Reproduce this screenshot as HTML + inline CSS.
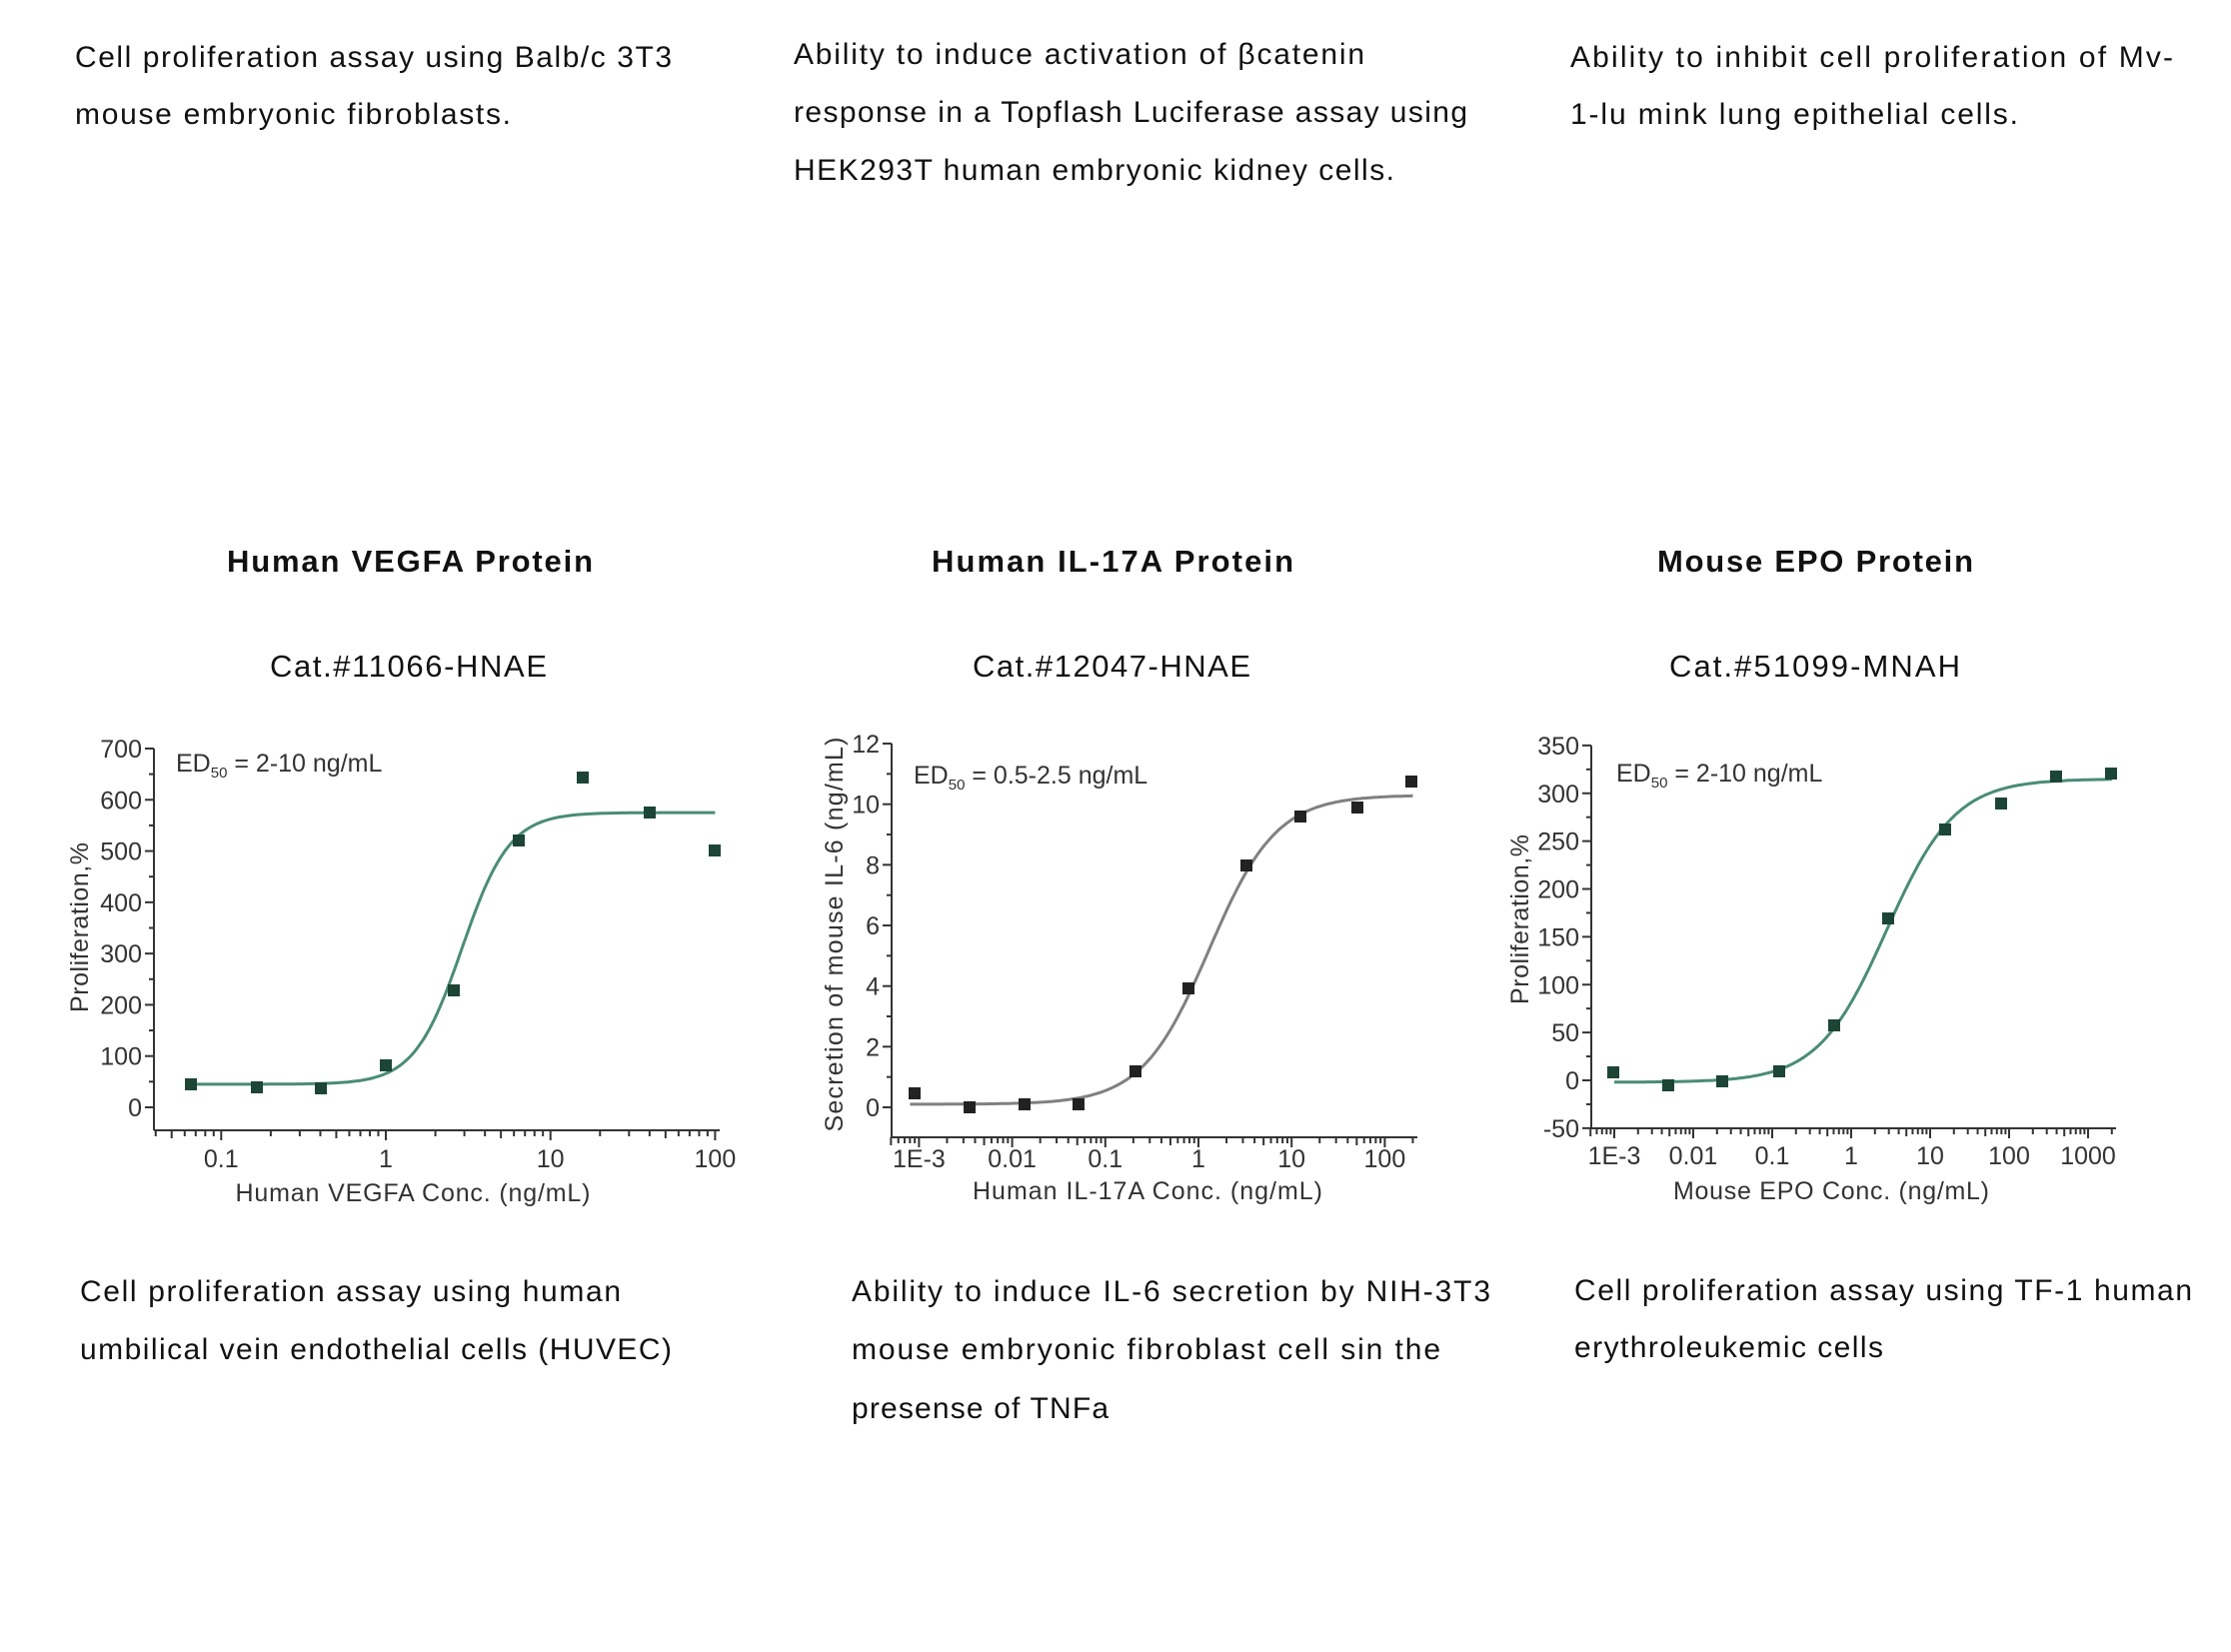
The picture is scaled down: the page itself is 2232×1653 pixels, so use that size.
<!DOCTYPE html>
<html><head><meta charset="utf-8">
<style>
html,body{margin:0;padding:0;background:#fff;}
svg{display:block;}
.p{font-family:"Liberation Sans",sans-serif;font-size:30px;fill:#111;}
.t{font-family:"Liberation Sans",sans-serif;font-size:31px;font-weight:bold;fill:#111;}
.c{font-family:"Liberation Sans",sans-serif;font-size:31px;fill:#111;}
.k{font-family:"Liberation Sans Narrow","Liberation Sans",sans-serif;font-size:25px;fill:#333;}
</style></head>
<body>
<svg id="s" width="2232" height="1653" viewBox="0 0 2232 1653" xmlns="http://www.w3.org/2000/svg">
<rect width="2232" height="1653" fill="#fff"/>
<g transform="translate(-2,-2)">
<text class="p" x="77" y="69" textLength="597">Cell proliferation assay using Balb/c 3T3</text>
<text class="p" x="77" y="126" textLength="436">mouse embryonic fibroblasts.</text>
<text class="p" x="796" y="66" textLength="571">Ability to induce activation of βcatenin</text>
<text class="p" x="796" y="124" textLength="674">response in a Topflash Luciferase assay using</text>
<text class="p" x="796" y="182" textLength="601">HEK293T human embryonic kidney cells.</text>
<text class="p" x="1573" y="69" textLength="603">Ability to inhibit cell proliferation of Mv-</text>
<text class="p" x="1573" y="126" textLength="448">1-lu mink lung epithelial cells.</text>

<text class="t" x="229" y="574" textLength="366">Human VEGFA Protein</text>
<text class="t" x="934" y="574" textLength="362">Human IL-17A Protein</text>
<text class="t" x="1660" y="574" textLength="316">Mouse EPO Protein</text>
<text class="c" x="272" y="679" textLength="277">Cat.#11066-HNAE</text>
<text class="c" x="975" y="679" textLength="278">Cat.#12047-HNAE</text>
<text class="c" x="1672" y="679" textLength="291">Cat.#51099-MNAH</text>

<g transform="translate(0,-3)">
<text class="p" x="82" y="1307" textLength="541">Cell proliferation assay using human</text>
<text class="p" x="82" y="1365" textLength="592">umbilical vein endothelial cells (HUVEC)</text>
<text class="p" x="854" y="1307" textLength="639">Ability to induce IL-6 secretion by NIH-3T3</text>
<text class="p" x="854" y="1365" textLength="589">mouse embryonic fibroblast cell sin the</text>
<text class="p" x="854" y="1424" textLength="257">presense of TNFa</text>
<text class="p" x="1577" y="1306" textLength="618">Cell proliferation assay using TF-1 human</text>
<text class="p" x="1577" y="1363" textLength="309">erythroleukemic cells</text>
</g>
<g id="g"></g>
</g>
</svg>
<script>
var out='';
function L(x1,y1,x2,y2,c,w){out+='<line x1="'+x1+'" y1="'+y1+'" x2="'+x2+'" y2="'+y2+'" stroke="'+c+'" stroke-width="'+w+'"/>';}
function T(x,y,s,a,extra){out+='<text class="k" x="'+x+'" y="'+y+'" text-anchor="'+(a||'start')+'" '+(extra||'')+'>'+s+'</text>';}
function chart(o){
  var ax=o.ax, top=o.top, xa=o.xa, xr=o.xr;
  var px=function(x){return o.x1+o.dec*Math.log10(x);};
  var py=function(v){return o.y0-o.sy*v;};
  L(ax,top,ax,xa,'#333',2); L(ax,xa,xr,xa,'#333',2);
  for(var v=o.ymin;v<=o.ymax+1e-9;v+=o.ystep/2){
    var maj=Math.abs((v-o.ymin)/o.ystep-Math.round((v-o.ymin)/o.ystep))<1e-6;
    var y=py(v); L(ax-(maj?9:5),y,ax,y,'#333',2);
    if(maj) T(ax-12,y+9,String(v),'end');
  }
  var lo=Math.floor((ax-o.x1)/o.dec), hi=Math.ceil((xr-o.x1)/o.dec);
  for(var d=lo;d<=hi;d++){for(var m=1;m<10;m++){
    var x=o.x1+o.dec*(d+Math.log10(m)); if(x<ax-1||x>xr+1)continue;
    L(x,xa,x,xa+(m==1?10:(m==5?8:6)),'#333',2);
  }}
  o.labels.forEach(function(l){T(px(l[0]),o.ly,l[1],'middle');});
  var d='';for(var i=0;i<=200;i++){var lx=Math.log10(o.cx0)+(Math.log10(o.cx1)-Math.log10(o.cx0))*i/200;var x=Math.pow(10,lx);
    d+=(i?'L':'M')+px(x).toFixed(1)+','+py(o.f(x)).toFixed(1);}
  out+='<path d="'+d+'" fill="none" stroke="'+o.cc+'" stroke-width="3"/>';
  o.pts.forEach(function(p){out+='<rect x="'+(p[0]-6)+'" y="'+(p[1]-6)+'" width="12" height="12" fill="'+o.pc+'"/>';});
  out+='<text class="k" x="'+o.ex+'" y="'+o.ey+'" style="font-size:25px">ED<tspan font-size="15" dy="6">50</tspan><tspan dy="-6"> = '+o.ed+'</tspan></text>';
  T(o.tx,o.ty,o.title,'middle','textLength="'+o.tw+'"');
  out+='<text class="k" transform="translate('+o.yx+','+o.yy+') rotate(-90)" text-anchor="middle" textLength="'+o.yw+'">'+o.ylab+'</text>';
}
chart({ax:156,top:751,xa:1133,xr:722,x1:388,dec:164.7,y0:1110,sy:0.5129,ymin:0,ymax:700,ystep:100,
 labels:[[0.1,'0.1'],[1,'1'],[10,'10'],[100,'100']],ly:1170,
 f:function(x){return 45+530/(1+Math.pow(2.9/x,3));},cx0:0.065,cx1:100,cc:'#4a8c77',pc:'#1c4536',
 pts:[[193,1087],[259,1090],[323,1091],[388,1068],[456,993],[521,843],[585,780],[652,815],[717,853]],
 ex:178,ey:774,ed:'2-10 ng/mL',tx:415,ty:1204,title:'Human VEGFA Conc. (ng/mL)',tw:355,
 yx:90,yy:930,ylab:'Proliferation,%',yw:170});
chart({ax:894,top:746,xa:1140,xr:1420,x1:1201,dec:93.2,y0:1110,sy:30.33,ymin:0,ymax:12,ystep:2,
 labels:[[0.001,'1E-3'],[0.01,'0.01'],[0.1,'0.1'],[1,'1'],[10,'10'],[100,'100']],ly:1170,
 f:function(x){return 0.1+10.2/(1+Math.pow(1.3/x,1.2));},cx0:0.0008,cx1:200,cc:'#808080',pc:'#222',
 pts:[[917,1096],[972,1110],[1027,1107],[1081,1107],[1138,1074],[1191,991],[1249,868],[1303,819],[1360,810],[1414,784]],
 ex:916,ey:786,ed:'0.5-2.5 ng/mL',tx:1150,ty:1202,title:'Human IL-17A Conc. (ng/mL)',tw:350,
 yx:845,yy:937,ylab:'Secretion of mouse IL-6 (ng/mL)',yw:395});
chart({ax:1594,top:748,xa:1131,xr:2119,x1:1854,dec:79.0,y0:1083,sy:0.9575,ymin:-50,ymax:350,ystep:50,
 labels:[[0.001,'1E-3'],[0.01,'0.01'],[0.1,'0.1'],[1,'1'],[10,'10'],[100,'100'],[1000,'1000']],ly:1167,
 f:function(x){return -2+317/(1+2.8/x);},cx0:0.001,cx1:2000,cc:'#4a8c77',pc:'#1c4536',
 pts:[[1616,1075],[1671,1088],[1725,1084],[1782,1074],[1837,1028],[1891,921],[1948,832],[2004,806],[2059,779],[2114,776]],
 ex:1619,ey:784,ed:'2-10 ng/mL',tx:1834,ty:1202,title:'Mouse EPO Conc. (ng/mL)',tw:316,
 yx:1531,yy:922,ylab:'Proliferation,%',yw:170});
document.getElementById('g').innerHTML=out;
</script>
</body></html>
